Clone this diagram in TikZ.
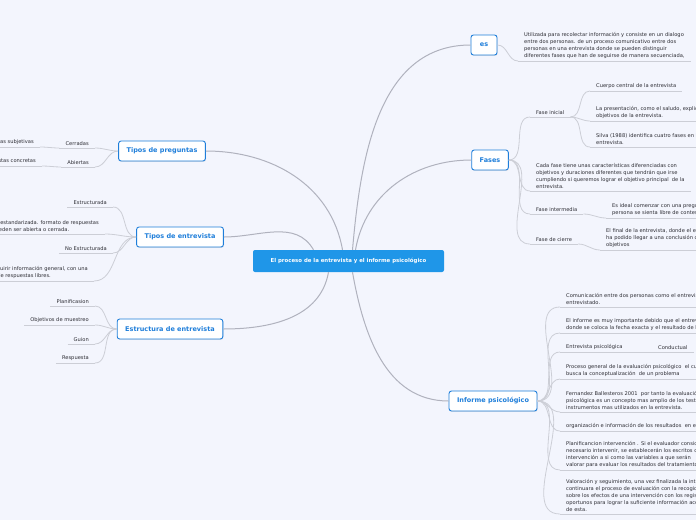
\documentclass[tikz,border=0pt]{standalone}
\usepackage{fontspec}
\setmainfont{DejaVu Sans}
\usetikzlibrary{shadows}
\definecolor{mapbg}{RGB}{243,245,253}
\definecolor{mapblue}{RGB}{31,150,232}
\definecolor{topicblue}{RGB}{30,126,218}
\definecolor{linegray}{RGB}{176,178,190}
\definecolor{twiggray}{RGB}{204,206,214}
\definecolor{textgray}{RGB}{45,45,52}

\begin{document}
\begin{tikzpicture}[
  x=1pt, y=-1pt,
  root/.style={rectangle, rounded corners=2pt, fill=mapblue, text=white, font=\fontsize{5.4}{6}\selectfont\bfseries, inner xsep=10pt, minimum width=191pt, minimum height=22pt},
  topic/.style={rectangle, rounded corners=2.5pt, draw=topicblue, line width=0.9pt, fill=white, text=topicblue, font=\fontsize{6.5}{8}\selectfont\bfseries, inner xsep=8pt, minimum height=20pt, minimum width=26pt, drop shadow={opacity=0.18, shadow xshift=0.6pt, shadow yshift=-0.9pt}},
  leafr/.style={anchor=south west, align=left, text=textgray, font=\fontsize{5.15}{7}\selectfont, inner xsep=6pt, inner ysep=2.5pt, append after command={(\tikzlastnode.south west) edge[twig] (\tikzlastnode.south east)}},
  leafl/.style={anchor=south east, align=left, text=textgray, font=\fontsize{5.15}{7}\selectfont, inner xsep=6pt, inner ysep=2.5pt, append after command={(\tikzlastnode.south west) edge[twig] (\tikzlastnode.south east)}},
  branch/.style={draw=linegray, line width=1pt},
  twig/.style={draw=twiggray, line width=0.8pt}
]
\useasboundingbox (0,0) rectangle (696,520);
\fill[mapbg] (0,0) rectangle (696,520);
\clip (0,0) rectangle (696,520);

% Root
\node[root] (c) at (348.5,261) {El proceso de la entrevista y el informe psicológico};

% Main topics
\node[topic] (es) at (484,45) {es};
\node[topic] (fases) at (490,160) {Fases};
\node[topic] (inf) at (493,401) {Informe psicológico};
\node[topic] (tpreg) at (162,151) {Tipos de preguntas};
\node[topic] (tent) at (180,237) {Tipos de entrevista};
\node[topic] (estr) at (170,329) {Estructura de entrevista};

% es
\node[leafr] (esdef) at (518,61) {Utilizada para recolectar información y consiste en un dialogo\\entre dos personas. de un proceso comunicativo entre dos\\personas en una entrevista donde se pueden distinguir\\diferentes fases que han de seguirse de manera secuenciada,};

% Fases
\node[leafr] (finicial) at (530,117) {Fase inicial};
\node[leafr] (cuerpo) at (590,91) {Cuerpo central de la entrevista};
\node[leafr] (present) at (590,121) {La presentación, como el saludo, explicación de los\\objetivos de la entrevista.};
\node[leafr] (silva) at (590,147) {Silva (1988) identifica cuatro fases en la\\entrevista.};
\node[leafr] (cadafase) at (530,191) {Cada fase tiene unas características diferenciadas con\\objetivos y duraciones diferentes que tendrán que irse\\cumpliendo si queremos lograr el objetivo principal\ \ de la\\entrevista.};
\node[leafr] (finter) at (530,214) {Fase intermedia};
\node[leafr] (ideal) at (606,218) {Es ideal comenzar con una pregunta abierta para que la\\persona se sienta libre de contestar};
\node[leafr] (fcierre) at (530,244) {Fase de cierre};
\node[leafr] (final) at (600,250) {El final de la entrevista, donde el entrevistador\\ha podido llegar a una conclusión de los\\objetivos};

% Informe psicologico
\node[leafr] (comun) at (560,307) {Comunicación entre dos personas como el entrevistador y el\\entrevistado.};
\node[leafr] (import) at (560,333) {El informe es muy importante debido que el entrevistador\\donde se coloca la fecha exacta y el resultado de la};
\node[leafr] (entpsi) at (560,352) {Entrevista psicológica};
\node[leafr] (conduct) at (652,352) {Conductual};
\node[leafr] (proceso) at (560,379) {Proceso general de la evaluación psicológico\ \ el cual\\busca la conceptualización\ \ de un problema};
\node[leafr] (fernan) at (560,412) {Fernandez Ballesteros 2001\ \ por tanto la evaluación\\psicológica es un concepto mas amplio de los test\\instrumentos mas utilizados en la entrevista.};
\node[leafr] (organ) at (560,431) {organización e información de los resultados\ \ en el informe};
\node[leafr] (planif) at (560,470) {Planificancion intervención . Si el evaluador considera\\necesario intervenir, se establecerán los escritos de\\intervención a si como las variables a que serán\\valorar para evaluar los resultados del tratamiento.};
\node[leafr] (valor) at (560,514) {Valoración y seguimiento, una vez finalizada la intervención\\continuara el proceso de evaluación con la recogida de datos\\sobre los efectos de una intervención con los registros\\oportunos para lograr la suficiente información acerca\\de esta.};

% Tipos de preguntas
\node[leafl] (cerr) at (95,148) {Cerradas};
\node[leafl] (subj) at (40,147) {Respuestas subjetivas};
\node[leafl] (abier) at (95,167) {Abiertas};
\node[leafl] (concr) at (42,166) {Respuestas concretas};

% Tipos de entrevista
\node[leafl] (estruc) at (113,207) {Estructurada};
\node[leafl] (estand) at (105,234) {Es estandarizada. formato de respuestas\\Pueden ser abierta o cerrada.};
\node[leafl] (noestruc) at (113,253) {No Estructurada};
\node[leafl] (general) at (94,281) {Permite adquirir información general, con una\\estructura de respuestas libres.};

% Estructura de entrevista
\node[leafl] (planific) at (95,306) {Planificasion};
\node[leafl] (objet) at (95,325) {Objetivos de muestreo};
\node[leafl] (guion) at (95,344) {Guion};
\node[leafl] (resp) at (95,363) {Respuesta};

% Edges - root to topics
\draw[branch] ([xshift=4pt]c.north) to[out=85,in=180] (es.west);
\draw[branch] ([xshift=7pt]c.north) to[out=80,in=180] (fases.west);
\draw[branch] ([xshift=4pt]c.south) to[out=-80,in=180] (inf.west);
\draw[branch] ([xshift=-6pt]c.north) to[out=100,in=0] (tpreg.east);
\draw[branch] ([xshift=-35pt]c.north) to[out=120,in=0] (tent.east);
\draw[branch] ([xshift=-20pt]c.south) to[out=-100,in=0] (estr.east);

% Edges - right side
\draw[twig] (es.east) to[out=0,in=180] (esdef.south west);
\draw[twig] (fases.east) to[out=0,in=180] (finicial.south west);
\draw[twig] (finicial.south east) to[out=0,in=180] (cuerpo.south west);
\draw[twig] (finicial.south east) to[out=0,in=180] (present.south west);
\draw[twig] (finicial.south east) to[out=0,in=180] (silva.south west);
\draw[twig] (fases.east) to[out=0,in=180] (cadafase.south west);
\draw[twig] (fases.east) to[out=0,in=180] (finter.south west);
\draw[twig] (finter.south east) to[out=0,in=180] (ideal.south west);
\draw[twig] (fases.east) to[out=0,in=180] (fcierre.south west);
\draw[twig] (fcierre.south east) to[out=0,in=180] (final.south west);

\draw[twig] (inf.east) to[out=0,in=180] (comun.south west);
\draw[twig] (inf.east) to[out=0,in=180] (import.south west);
\draw[twig] (inf.east) to[out=0,in=180] (entpsi.south west);
\draw[twig] (entpsi.south east) -- (conduct.south west);
\draw[twig] (inf.east) to[out=0,in=180] (proceso.south west);
\draw[twig] (inf.east) to[out=0,in=180] (fernan.south west);
\draw[twig] (inf.east) to[out=0,in=180] (organ.south west);
\draw[twig] (inf.east) to[out=0,in=180] (planif.south west);
\draw[twig] (inf.east) to[out=0,in=180] (valor.south west);

% Edges - left side
\draw[twig] (tpreg.west) to[out=180,in=0] (cerr.south east);
\draw[twig] (cerr.south west) to[out=180,in=0] (subj.south east);
\draw[twig] (tpreg.west) to[out=180,in=0] (abier.south east);
\draw[twig] (abier.south west) to[out=180,in=0] (concr.south east);

\draw[twig] (tent.west) to[out=180,in=0] (estruc.south east);
\draw[twig] (tent.west) to[out=180,in=0] (estand.south east);
\draw[twig] (tent.west) to[out=180,in=0] (noestruc.south east);
\draw[twig] (tent.west) to[out=180,in=0] (general.south east);

\draw[twig] (estr.west) to[out=180,in=0] (planific.south east);
\draw[twig] (estr.west) to[out=180,in=0] (objet.south east);
\draw[twig] (estr.west) to[out=180,in=0] (guion.south east);
\draw[twig] (estr.west) to[out=180,in=0] (resp.south east);

\end{tikzpicture}
\end{document}
